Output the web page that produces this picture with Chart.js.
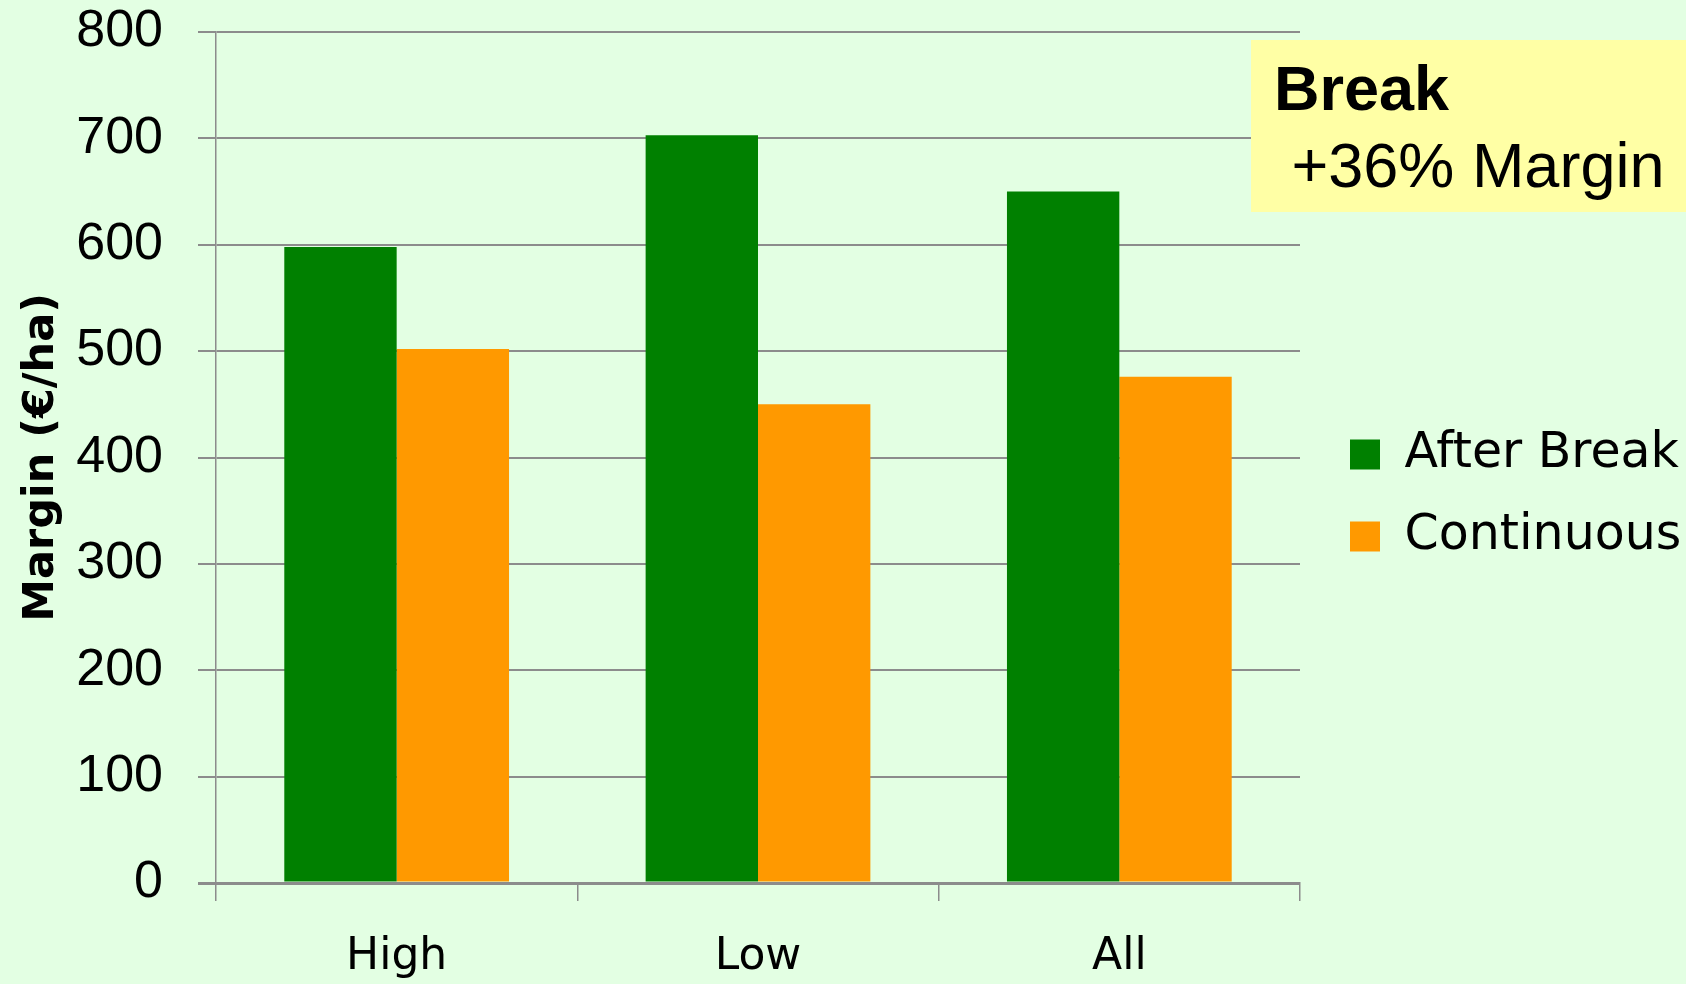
<!DOCTYPE html>
<html>
<head>
<meta charset="utf-8">
<script src="https://cdn.jsdelivr.net/npm/chart.js@4/dist/chart.umd.min.js"></script>
<style>
  html, body { margin: 0; padding: 0; background: #E3FFE3; }
  #wrap { position: relative; width: 1686px; height: 984px; overflow: hidden; }
  #note {
    position: absolute; left: 1251px; top: 40px; width: 435px; height: 172px;
    background: #FFFFA5; box-sizing: border-box; padding: 10px 0 0 23px;
    font-family: "Liberation Sans", Arial, sans-serif; font-size: 63px; line-height: 77px;
    color: #000; white-space: pre;
  }
  #note b { font-weight: bold; }
</style>
</head>
<body>
<div id="wrap">
  <canvas id="chart" width="1686" height="984"></canvas>
  <div id="note"><b>Break</b>
 +36% Margin</div>
</div>
<script>
  /* ── data ── */
  const CATEGORIES = ["High", "Low", "All"];
  const AFTER_BREAK = [598, 703, 650];
  const CONTINUOUS = [502, 450, 476];
  const Y_MIN = 0, Y_MAX = 800, Y_STEP = 100;

  /* ── styles ── */
  const GREEN = "#008000";
  const ORANGE = "#FF9900";
  const GRID = "#8C8C8C";
  const COMIC = '"Comic Sans MS", "DejaVu Sans", sans-serif';

  // legend sits in the right margin, not in the chart area
  const legendPlacer = {
    id: "legendPlacer",
    afterLayout: function (chart) {
      var lg = chart.legend;
      if (!lg) return;
      lg.left = 1317; lg.right = 1686;
      lg.top = 397; lg.bottom = 984;
    }
  };

  new Chart(document.getElementById("chart").getContext("2d"), {
    type: "bar",
    data: {
      labels: CATEGORIES,
      datasets: [
        { label: "After Break", data: AFTER_BREAK, backgroundColor: GREEN, borderWidth: 0 },
        { label: "Continuous", data: CONTINUOUS, backgroundColor: ORANGE, borderWidth: 0 },
      ],
    },
    options: {
      responsive: false,
      animation: false,
      devicePixelRatio: 1,
      categoryPercentage: 0.622,
      barPercentage: 1,
      layout: { padding: { left: 0, top: 32, right: 386, bottom: 0 } },
      plugins: {
        tooltip: { enabled: false },
        legend: {
          position: "chartArea",
          align: "start",
          labels: {
            boxWidth: 30,
            boxHeight: 30,
            padding: 33,
            color: "#000",
            font: { family: COMIC, size: 49 },
          },
        },
      },
      scales: {
        x: {
          afterFit: function (s) { s.height = 101; s.paddingLeft = 0; s.paddingRight = 0; },
          grid: { offset: true, drawOnChartArea: false, tickLength: 18, color: GRID, lineWidth: 1.5 },
          border: { color: GRID, width: 3 },
          ticks: { color: "#000", padding: 30, font: { family: COMIC, size: 44 } },
        },
        y: {
          min: Y_MIN,
          max: Y_MAX,
          afterFit: function (s) { s.width = 216; s.paddingTop = 0; s.paddingBottom = 0; },
          grid: {
            color: GRID,
            tickLength: 18,
            lineWidth: function (ctx) { return ctx.tick && ctx.tick.value === 0 ? 3 : 2; },
          },
          border: { color: GRID, width: 1.5 },
          ticks: {
            stepSize: Y_STEP,
            color: "#000",
            padding: 35,
            font: { family: '"Liberation Sans", Arial, sans-serif', size: 52 },
          },
          title: {
            display: true,
            text: "Margin (€/ha)",
            color: "#000",
            padding: { top: 16, bottom: 0 },
            font: { family: COMIC, size: 43, weight: "bold" },
          },
        },
      },
    },
    plugins: [legendPlacer],
  });
</script>
</body>
</html>
